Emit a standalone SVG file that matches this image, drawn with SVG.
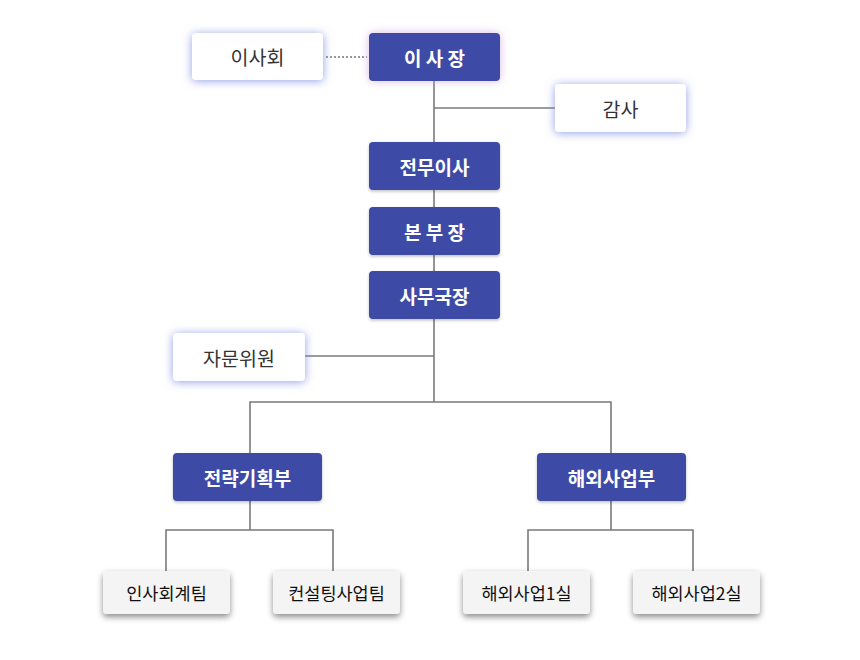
<svg xmlns="http://www.w3.org/2000/svg" width="860" height="660" viewBox="0 0 860 660">
<defs>
<filter id="gBlue" x="-30%" y="-50%" width="160%" height="200%">
<feDropShadow dx="0" dy="1" stdDeviation="5" flood-color="#7f8de4" flood-opacity="0.85"/>
</filter>
<filter id="gPink" x="-30%" y="-50%" width="160%" height="200%">
<feDropShadow dx="0" dy="0" stdDeviation="4" flood-color="#c89ad8" flood-opacity="0.7"/>
</filter>
<filter id="sNavy" x="-20%" y="-30%" width="140%" height="170%">
<feDropShadow dx="0" dy="1.5" stdDeviation="1.5" flood-color="#000" flood-opacity="0.25"/>
</filter>
<filter id="sGray" x="-20%" y="-30%" width="140%" height="170%">
<feDropShadow dx="0" dy="3" stdDeviation="3" flood-color="#000" flood-opacity="0.45"/>
</filter>
</defs>
<style>
.navy{fill:#3c4ba6}
.white{fill:#ffffff}
.gray{fill:#f4f4f4}
.tn{font-family:"Noto Sans CJK KR","Noto Sans",sans-serif;font-size:19px;font-weight:700;fill:#ffffff;text-anchor:middle;dominant-baseline:central}
.tw{font-family:"Noto Sans CJK KR","Noto Sans",sans-serif;font-size:19.5px;font-weight:400;fill:#333333;text-anchor:middle;dominant-baseline:central}
.tg{font-family:"Noto Sans CJK KR","Noto Sans",sans-serif;font-size:17.5px;font-weight:400;fill:#111111;text-anchor:middle;dominant-baseline:central}
.ln{stroke:#7a7a7a;stroke-width:1.6;fill:none}
.dot{stroke:#777;stroke-width:1.6;stroke-dasharray:2 2;fill:none}
</style>
<rect width="860" height="660" fill="#ffffff"/>
<g id="connectors">
<line class="dot" x1="326" y1="57" x2="367" y2="57"/>
<path class="ln" d="M434 81 V142"/>
<path class="ln" d="M434 108 H555"/>
<path class="ln" d="M434 190 V207"/>
<path class="ln" d="M434 255 V271"/>
<path class="ln" d="M434 319 V402"/>
<path class="ln" d="M305 356 H434"/>
<path class="ln" d="M250 453 V402 H611 V453"/>
<path class="ln" d="M250 501 V530"/>
<path class="ln" d="M166 571 V530 H333 V571"/>
<path class="ln" d="M611 501 V530"/>
<path class="ln" d="M528 571 V530 H693 V571"/>
</g>
<g id="n-chairman">
<rect class="navy" x="369" y="33" width="131" height="48" rx="4" filter="url(#gPink)"/>
<text class="tn" x="434.5" y="57">이 사 장</text>
</g>
<g id="n-board">
<rect class="white" x="192" y="33" width="131" height="47" rx="4" filter="url(#gBlue)"/>
<text class="tw" x="257.5" y="56.5">이사회</text>
</g>
<g id="n-audit">
<rect class="white" x="555" y="84" width="131" height="48" rx="4" filter="url(#gBlue)"/>
<text class="tw" x="620.5" y="108">감사</text>
</g>
<g id="n-md">
<rect class="navy" x="369" y="142" width="131" height="48" rx="4" filter="url(#sNavy)"/>
<text class="tn" x="434.5" y="166">전무이사</text>
</g>
<g id="n-gm">
<rect class="navy" x="369" y="207" width="131" height="48" rx="4" filter="url(#sNavy)"/>
<text class="tn" x="434.5" y="231">본 부 장</text>
</g>
<g id="n-sg">
<rect class="navy" x="369" y="271" width="131" height="48" rx="4" filter="url(#sNavy)"/>
<text class="tn" x="434.5" y="295">사무국장</text>
</g>
<g id="n-advisory">
<rect class="white" x="173" y="333" width="132" height="48" rx="4" filter="url(#gBlue)"/>
<text class="tw" x="239" y="357">자문위원</text>
</g>
<g id="n-strategy">
<rect class="navy" x="173" y="453" width="149" height="48" rx="4" filter="url(#sNavy)"/>
<text class="tn" x="247.5" y="477">전략기획부</text>
</g>
<g id="n-overseas">
<rect class="navy" x="537" y="453" width="149" height="48" rx="4" filter="url(#sNavy)"/>
<text class="tn" x="611.5" y="477">해외사업부</text>
</g>
<g id="n-hr">
<rect class="gray" x="103" y="571" width="127" height="43" rx="4" filter="url(#sGray)"/>
<text class="tg" x="166.5" y="592.5">인사회계팀</text>
</g>
<g id="n-consult">
<rect class="gray" x="273" y="571" width="127" height="43" rx="4" filter="url(#sGray)"/>
<text class="tg" x="336.5" y="592.5">컨설팅사업팀</text>
</g>
<g id="n-ov1">
<rect class="gray" x="463" y="571" width="127" height="43" rx="4" filter="url(#sGray)"/>
<text class="tg" x="526.5" y="592.5">해외사업1실</text>
</g>
<g id="n-ov2">
<rect class="gray" x="633" y="571" width="127" height="43" rx="4" filter="url(#sGray)"/>
<text class="tg" x="696.5" y="592.5">해외사업2실</text>
</g>
</svg>
